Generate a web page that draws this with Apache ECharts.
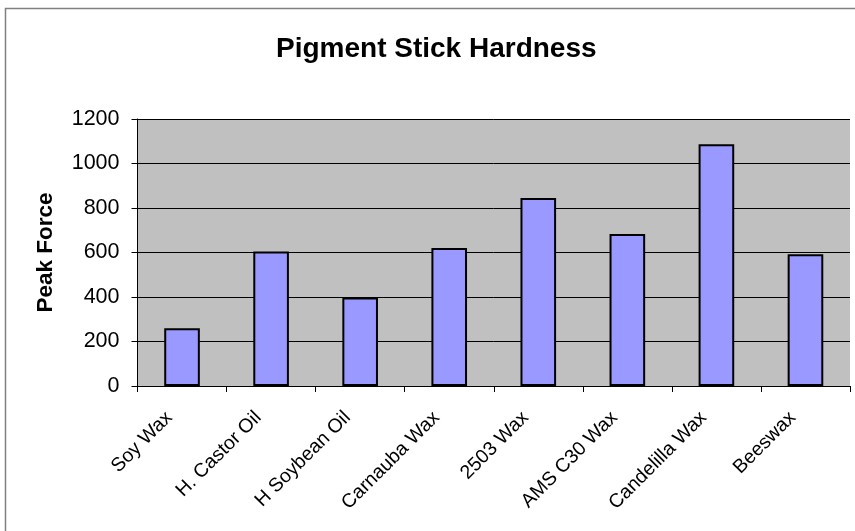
<!DOCTYPE html>
<html><head><meta charset="utf-8">
<script src="https://cdn.jsdelivr.net/npm/echarts@6/dist/echarts.min.js"></script>
<style>html,body{margin:0;padding:0;background:#fff}#c{width:855px;height:531px}</style>
</head><body><div id="c"></div>
<script>
const categories = ['Soy Wax','H. Castor Oil','H Soybean Oil','Carnauba Wax','2503 Wax','AMS C30 Wax','Candelilla Wax','Beeswax'];
const peakForce = [260, 605, 398, 620, 845, 683, 1087, 592];
const yTicks = [0, 200, 400, 600, 800, 1000, 1200];

const chart = echarts.init(document.getElementById('c'), null, {renderer:'canvas'});
chart.setOption({
  animation:false,
  backgroundColor:'#fff',
  graphic:[{type:'rect',shape:{x:5.5,y:8.5,width:900,height:600},style:{fill:'none',stroke:'#808080',lineWidth:1.5},z:-10}],
  title:{text:'Pigment Stick Hardness',left:271,top:30,textStyle:{fontFamily:'Liberation Sans, Arial',fontSize:28,fontWeight:'bold',color:'#000'}},
  grid:{left:137.5,right:5,top:119,bottom:145,show:true,backgroundColor:'#C0C0C0',borderWidth:0},
  xAxis:{type:'category',data:categories,
    axisLine:{lineStyle:{color:'#000',width:1}},
    axisTick:{show:true,alignWithLabel:false,length:6,lineStyle:{color:'#000'}},
    axisLabel:{rotate:45,interval:0,margin:16,padding:[0,18,0,0],color:'#000',fontFamily:'Liberation Sans, Arial',fontSize:19.5}},
  yAxis:{type:'value',min:0,max:1200,interval:200,
    name:'Peak Force',nameLocation:'middle',nameGap:80,nameRotate:90,
    nameTextStyle:{fontFamily:'Liberation Sans, Arial',fontSize:22.5,fontWeight:'bold',color:'#000'},
    axisLine:{show:true,lineStyle:{color:'#000'}},
    axisTick:{show:true,length:6,lineStyle:{color:'#000'}},
    axisLabel:{color:'#000',fontFamily:'Liberation Sans, Arial',fontSize:21.5,margin:18,
      formatter:function(v){return yTicks.indexOf(v)>=0?String(v):'';}},
    splitLine:{show:true,lineStyle:{color:'#000',width:1}}},
  series:[{type:'bar',data:peakForce,barWidth:'40%',
    itemStyle:{color:'#9999FF',borderColor:'#000',borderWidth:2}}]
});
</script></body></html>
